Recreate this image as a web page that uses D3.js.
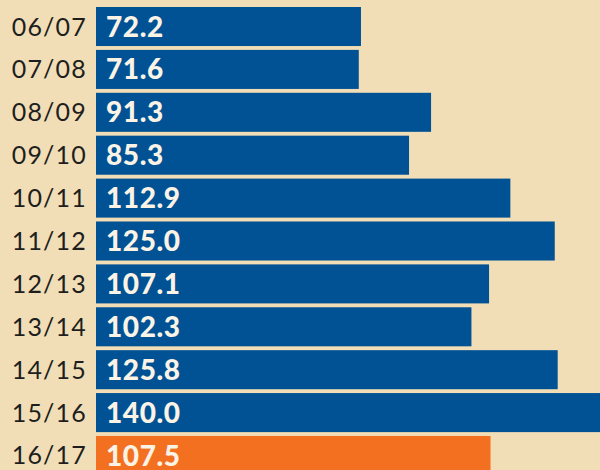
<!DOCTYPE html>
<html>
<head>
<meta charset="utf-8">
<script src="https://cdn.jsdelivr.net/npm/d3@7"></script>
<style>
  html, body { margin: 0; padding: 0; background: #f1deb6; overflow: hidden; }
  svg { display: block; }
</style>
</head>
<body>
<svg id="chart" width="600" height="470"></svg>
<script>
var seasons = ['06/07', '07/08', '08/09', '09/10', '10/11', '11/12', '12/13', '13/14', '14/15', '15/16', '16/17'];
var values = [72.2, 71.6, 91.3, 85.3, 112.9, 125.0, 107.1, 102.3, 125.8, 140.0, 107.5];
var highlight = ['16/17'];

var width = 600, height = 470;
var barLeft = 96;

var svg = d3.select('#chart');

svg.append('rect')
    .attr('width', width)
    .attr('height', height)
    .attr('fill', '#f1deb6');

var y = d3.scaleBand()
    .domain(seasons)
    .range([7, 475])
    .paddingInner(0.09)
    .paddingOuter(0);

var x = d3.scaleLinear()
    .domain([0, 140])
    .range([barLeft, barLeft + 140 * 3.67]);

var rows = svg.selectAll('g.row')
    .data(seasons)
    .enter().append('g')
    .attr('class', 'row');

rows.append('rect')
    .attr('x', x(0))
    .attr('y', function (d) { return y(d); })
    .attr('width', function (d, i) { return x(values[i]) - x(0); })
    .attr('height', y.bandwidth())
    .attr('fill', function (d) { return highlight.indexOf(d) >= 0 ? '#f37021' : '#005295'; });

//season labels, right aligned against the bars
rows.append('text')
    .attr('x', 87)
    .attr('y', function (d) { return y(d) + y.bandwidth() / 2; })
    .attr('dy', '0.36em')
    .attr('text-anchor', 'end')
    .attr('font-family', 'Lato, sans-serif')
    .attr('font-size', 25)
    .attr('letter-spacing', 1.2)
    .attr('fill', '#1e1e1e')
    .text(function (d) { return d; });

//values inside the bars
rows.append('text')
    .attr('x', x(0) + 10)
    .attr('y', function (d) { return y(d) + y.bandwidth() / 2; })
    .attr('dy', '0.36em')
    .attr('font-family', 'Lato, sans-serif')
    .attr('font-weight', 900)
    .attr('font-size', 28)
    .attr('letter-spacing', 0.6)
    .attr('fill', '#fbf3e6')
    .text(function (d, i) { return values[i].toFixed(1); });
</script>
</body>
</html>
